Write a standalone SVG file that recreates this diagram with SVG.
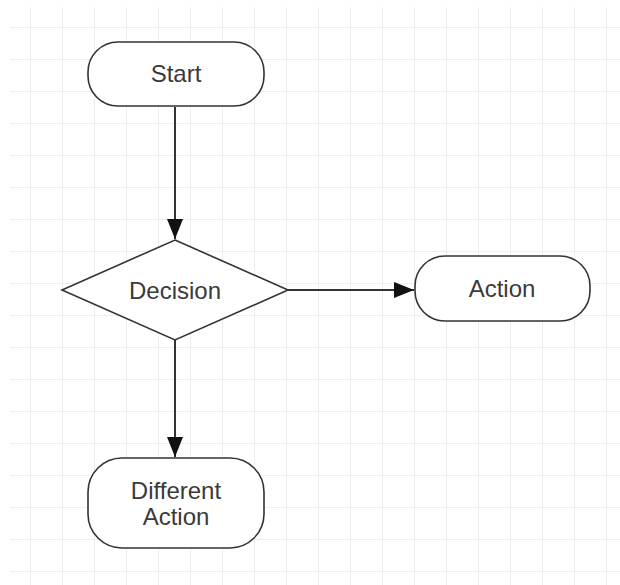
<svg xmlns="http://www.w3.org/2000/svg" width="620" height="585" viewBox="0 0 620 585">
  <defs>
    <pattern id="grid" x="-1" y="-4" width="32" height="32" patternUnits="userSpaceOnUse">
      <path d="M32 0V32M0 32H32" fill="none" stroke="#e9e9e9" stroke-width="1.6"/>
    </pattern>
    <marker id="arrow" viewBox="0 0 20 16" refX="20" refY="8" markerWidth="20" markerHeight="16" markerUnits="userSpaceOnUse" orient="auto">
      <path d="M0 0L20 8L0 16Z" fill="#111"/>
    </marker>
  </defs>
  <style>
    .shape { fill: #fff; stroke: #333; stroke-width: 1.6; }
    .label { font-family: "Liberation Sans", Arial, sans-serif; font-size: 24px; fill: #3a3a3a; text-anchor: middle; }
    .edge { fill: none; stroke: #333; stroke-width: 2; marker-end: url(#arrow); }
  </style>

  <rect width="620" height="585" fill="#fff"/>
  <rect x="10" y="7" width="610" height="578" fill="url(#grid)"/>

  <g id="connectors">
    <path class="edge" d="M175 107V239"/>
    <path class="edge" d="M288 290H414"/>
    <path class="edge" d="M175 340V457"/>
  </g>

  <g id="start">
    <rect class="shape" x="88" y="42" width="176" height="64" rx="30"/>
    <text class="label" x="176" y="82">Start</text>
  </g>

  <g id="decision">
    <path class="shape" d="M175 240L288 290L175 340L62 290Z"/>
    <text class="label" x="175" y="299">Decision</text>
  </g>

  <g id="action">
    <rect class="shape" x="415" y="256" width="175" height="65" rx="30"/>
    <text class="label" x="502" y="297">Action</text>
  </g>

  <g id="different-action">
    <rect class="shape" x="88" y="458" width="176" height="90" rx="34"/>
    <text class="label" x="176" y="499">Different</text>
    <text class="label" x="176" y="525">Action</text>
  </g>
</svg>
